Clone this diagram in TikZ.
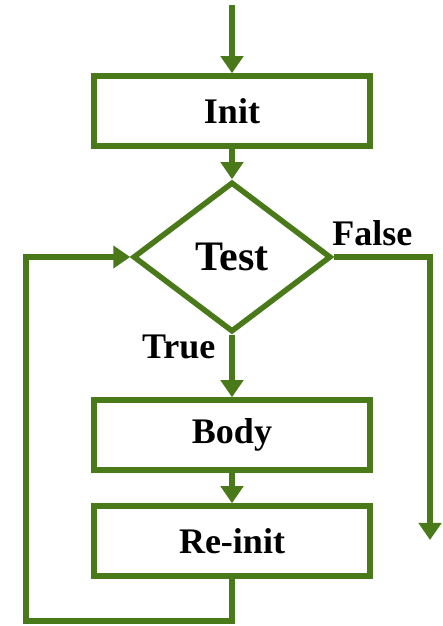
\documentclass[tikz,border=0pt]{standalone}
\usepackage{fontspec}
\setmainfont{Liberation Serif}
\usetikzlibrary{arrows.meta, positioning, shapes.geometric}

\definecolor{flowgreen}{RGB}{74,121,26}

\begin{document}
\begin{tikzpicture}[x=1pt, y=1pt, node distance = 146pt, on grid,
    every node/.style = {font=\bfseries\fontsize{36}{40}\selectfont},
    box/.style = {draw=flowgreen, line width=5.5pt, rectangle,
                  minimum width=276pt, minimum height=70pt, inner sep=0pt},
    test/.style = {draw=flowgreen, line width=5.5pt, diamond,
                   minimum width=198pt, minimum height=150pt, inner sep=0pt,
                   font=\bfseries\fontsize{42}{46}\selectfont},
    flow/.style = {draw=flowgreen, line width=5.5pt,
                   -{Triangle[length=17pt, width=22pt]}}]
  \useasboundingbox (0,0) rectangle (443,626);
  \node[box] (init) at (232,515) {Init};
  \node[test] (test) [below=of init] {Test};
  \node[box] (body) [below=178pt of test] {Body};
  \node[box] (reinit) [below=106pt of body] {Re-init};
  \coordinate (start) at (232,621);
  \coordinate (exit) at (430,86);
  \coordinate (back) at (26,5);
  \node[anchor=base west] (false) at ([xshift=-5pt, yshift=11pt]test.east) {False};
  \node[anchor=base east] (true) at ([xshift=-13pt, yshift=-24pt]test.south) {True};
  \draw[flow] (start) -- (init);
  \draw[flow] (init) -- (test);
  \draw[flow] (test) -- (body);
  \draw[flow] (body) -- (reinit);
  \draw[flow] (test.east) -| (exit);
  \draw[flow] (reinit.south) |- (back) |- (test.west);
\end{tikzpicture}
\end{document}
